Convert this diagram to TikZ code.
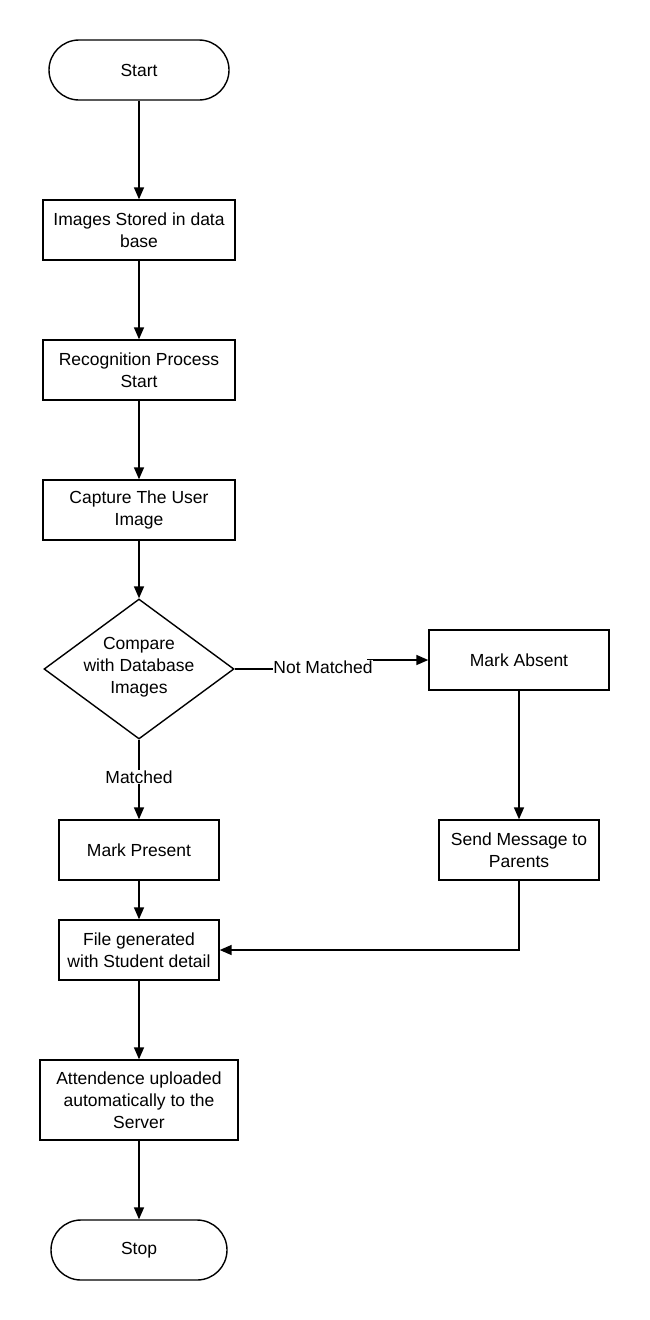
\documentclass[tikz,border=0pt]{standalone}
\usepackage{fontspec}
\setmainfont{Liberation Sans}
\usetikzlibrary{shapes.geometric,arrows.meta}
\begin{document}
\begin{tikzpicture}[x=1pt,y=-1pt,
  every node/.style={font=\fontsize{17.5}{22}\selectfont, inner sep=0pt, align=center},
  box/.style={draw, line width=1.4pt, rectangle},
  term/.style={draw, line width=1.4pt, rectangle, rounded corners=30pt, minimum width=#1, minimum height=60pt},
  dia/.style={draw, line width=1.4pt, diamond, aspect=1.357, minimum width=190pt, minimum height=140pt},
  conn/.style={line width=1.6pt, -{Triangle[length=12pt,width=10pt]}},
  lbl/.style={fill=white, inner sep=0.5pt}
]
\useasboundingbox (0,0) rectangle (649,1320);
\fill[white] (0,0) rectangle (649,1320);

\node[term=180pt] (start) at (139,70) {Start};
\node[box, minimum width=192pt, minimum height=60pt] (stored) at (139,230) {Images Stored in data\\base};
\node[box, minimum width=192pt, minimum height=60pt] (recog) at (139,370) {Recognition Process\\Start};
\node[box, minimum width=192pt, minimum height=60pt] (capture) at (139,510) {Capture The User\\Image};
\node[dia] (cmp) at (139,669) {};
\node (cmptxt) at (139,667) {Compare\\with Database\\Images};
\node[box, minimum width=180pt, minimum height=60pt] (absent) at (519,660) {Mark Absent};
\node[box, minimum width=160pt, minimum height=60pt] (msg) at (519,850) {Send Message to\\Parents};
\node[box, minimum width=160pt, minimum height=60pt] (present) at (139,850) {Mark Present};
\node[box, minimum width=160pt, minimum height=60pt] (file) at (139,950) {File generated\\with Student detail};
\node[box, minimum width=198pt, minimum height=80pt] (upload) at (139,1100) {Attendence uploaded\\automatically to the\\Server};
\node[term=176pt] (stop) at (139,1250) {Stop};

\coordinate (bend) at (368,669);
\coordinate (corner) at (519,950);

\draw[conn] (start) -- (stored);
\draw[conn] (stored) -- (recog);
\draw[conn] (recog) -- (capture);
\draw[conn] (capture) -- (cmp);
\draw[conn] (cmp.east) -- (bend) |- (absent.west);
\node[lbl] (nm) at (323,667) {Not Matched};
\draw[conn] (cmp.south) -- (present.north);
\node[lbl] (m) at (139,777) {Matched};
\draw[conn] (absent) -- (msg);
\draw[conn] (present) -- (file);
\draw[conn] (msg.south) -- (corner) -- (file.east);
\draw[conn] (file) -- (upload);
\draw[conn] (upload) -- (stop);
\end{tikzpicture}
\end{document}
